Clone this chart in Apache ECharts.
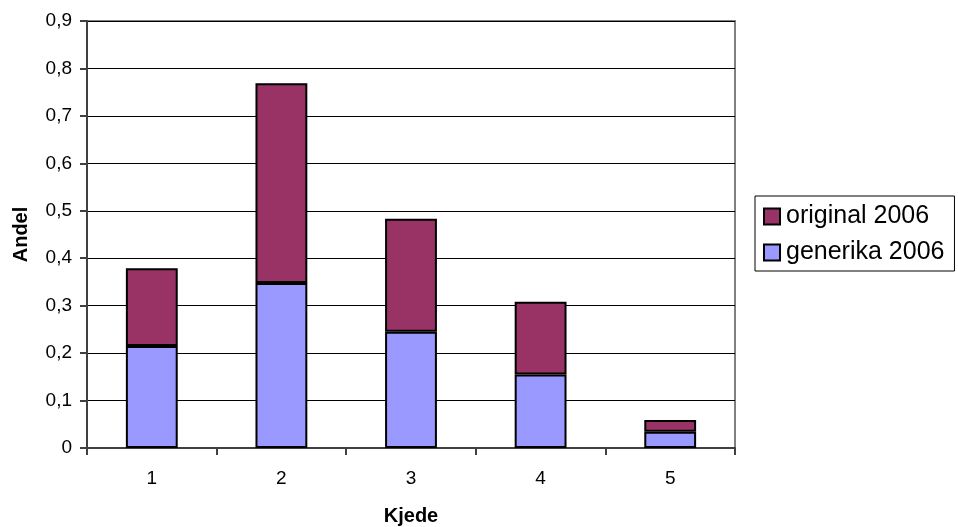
<!DOCTYPE html>
<html>
<head>
<meta charset="utf-8">
<script src="https://cdn.jsdelivr.net/npm/echarts@6/dist/echarts.min.js"></script>
<style>
html,body{margin:0;padding:0;background:#fff;}
#chart{width:958px;height:527px;}
</style>
</head>
<body>
<div id="chart"></div>
<script>
var categories = ['1', '2', '3', '4', '5'];
var generika2006 = [0.215, 0.348, 0.245, 0.155, 0.034];
var original2006 = [0.164, 0.421, 0.238, 0.153, 0.025];
var seriesNames = ['original 2006', 'generika 2006'];
var yTicks = { min: 0, max: 0.9, interval: 0.1 };

var FONT = "'Liberation Sans', Arial, sans-serif";
var chart = echarts.init(document.getElementById('chart'));
chart.setOption({
  animation: false,
  textStyle: { fontFamily: FONT },
  grid: {
    left: 87, right: 223, top: 21, bottom: 79,
    containLabel: false,
    outerBoundsMode: 'none',
    show: true, borderColor: '#808080', borderWidth: 2, backgroundColor: 'transparent'
  },
  legend: {
    orient: 'vertical',
    left: 755, top: 196,
    data: seriesNames,
    itemWidth: 16, itemHeight: 16,
    itemGap: 11,
    padding: [8, 10, 6, 8],
    borderColor: '#000', borderWidth: 1,
    textStyle: { fontSize: 25, color: '#000', fontFamily: FONT, padding: [0, 0, 0, 1] },
    icon: 'rect'
  },
  xAxis: {
    type: 'category',
    data: categories,
    name: 'Kjede',
    nameLocation: 'middle',
    nameGap: 58,
    nameTextStyle: { fontSize: 20, fontWeight: 'bold', color: '#000', fontFamily: FONT },
    axisLine: { lineStyle: { color: '#404040', width: 2 } },
    axisTick: { show: true, length: 7, lineStyle: { color: '#404040', width: 2 } },
    axisLabel: { fontSize: 19, color: '#000', margin: 21, fontFamily: FONT },
    splitLine: { show: false }
  },
  yAxis: {
    type: 'value',
    min: yTicks.min, max: yTicks.max, interval: yTicks.interval,
    name: 'Andel',
    nameLocation: 'middle',
    nameGap: 56,
    nameTextStyle: { fontSize: 20, fontWeight: 'bold', color: '#000', fontFamily: FONT },
    axisLine: { show: true, lineStyle: { color: '#404040', width: 2 } },
    axisTick: { show: true, length: 7, lineStyle: { color: '#404040', width: 2 } },
    axisLabel: {
      fontSize: 19, color: '#000', margin: 15, fontFamily: FONT,
      formatter: function (v) { return v === 0 ? '0' : v.toFixed(1).replace('.', ','); }
    },
    splitLine: { show: true, lineStyle: { color: '#000', width: 1 } }
  },
  series: [
    {
      name: 'generika 2006',
      type: 'bar',
      stack: 'total',
      data: generika2006,
      barWidth: '40%',
      itemStyle: { color: '#9999FF', borderColor: '#000', borderWidth: 2 }
    },
    {
      name: 'original 2006',
      type: 'bar',
      stack: 'total',
      data: original2006,
      barWidth: '40%',
      itemStyle: { color: '#993366', borderColor: '#000', borderWidth: 2 }
    }
  ]
});
</script>
</body>
</html>
